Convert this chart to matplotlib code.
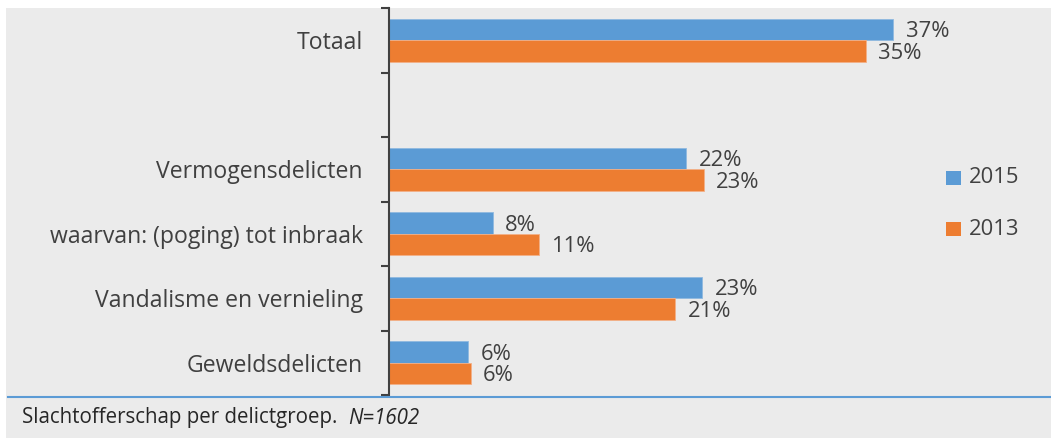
import numpy as np
import matplotlib.pyplot as plt
from matplotlib.patches import Rectangle
from matplotlib.lines import Line2D

categories = ['Totaal', '', 'Vermogensdelicten', 'waarvan: (poging) tot inbraak',
              'Vandalisme en vernieling', 'Geweldsdelicten']
v2015 = [37.0, None, 21.8, 7.6, 23.0, 5.8]
v2013 = [35.0, None, 23.1, 11.0, 21.0, 6.0]
years = ['2015', '2013']

blue = '#5b9bd5'
orange = '#ed7d31'
txt = '#404040'
bg = '#ebebeb'

plt.rcParams['font.family'] = ['Open Sans', 'DejaVu Sans']

W, H = 1051, 438
fig = plt.figure(figsize=(W / 100, H / 100), dpi=100, facecolor='white')

# grey panel
fig.patches.append(Rectangle((6 / W, 0), 1, 1 - 8 / H, transform=fig.transFigure,
                             facecolor=bg, edgecolor='none', zorder=-10))
fig.lines.append(Line2D([8 / W, 1], [1 - 397 / H, 1 - 397 / H], transform=fig.transFigure,
                        color=blue, lw=1.5))

ax = fig.add_axes([389 / W, 43 / H, (934 - 389) / W, (430 - 43) / H])
ax.set_facecolor('none')

n = len(categories)
y = np.arange(n)[::-1]
h = 1 / 3
fs = 15.8
for i in range(n):
    if v2015[i] is None:
        continue
    ax.barh(y[i] + h / 2, v2015[i], h, color=blue, edgecolor='#8fb9e0', lw=0.6)
    ax.barh(y[i] - h / 2, v2013[i], h, color=orange, edgecolor='#f3b088', lw=0.6)
    ax.annotate(f'{v2015[i]:.0f}%', (v2015[i], y[i] + h / 2), xytext=(9, -1.5),
                textcoords='offset points', va='center', ha='left', fontsize=fs, color=txt)
    ax.annotate(f'{v2013[i]:.0f}%', (v2013[i], y[i] - h / 2), xytext=(9, -1.5),
                textcoords='offset points', va='center', ha='left', fontsize=fs, color=txt)

ax.set_xlim(0, 40)
ax.set_ylim(-0.5, n - 0.5)
ax.set_yticks(y)
ax.set_yticklabels(categories, fontsize=16.6, color=txt)
ax.set_yticks(np.arange(-0.5, n, 1), minor=True)
ax.tick_params(axis='y', which='major', length=0, pad=19)
ax.tick_params(axis='y', which='minor', length=6, width=1.5, color='#404040')
ax.set_xticks([])
for s in ['top', 'right', 'bottom']:
    ax.spines[s].set_visible(False)
ax.spines['left'].set_color('#404040')
ax.spines['left'].set_linewidth(1.5)

# legend
for k, (yr, c) in enumerate(zip(years, [blue, orange])):
    yy = 1 - (178 + k * 51) / H
    fig.patches.append(Rectangle((946 / W, yy - 7 / H), 15 / W, 14 / H, transform=fig.transFigure,
                                 facecolor=c, edgecolor='none'))
    fig.text(969 / W, yy, yr, fontsize=fs, color=txt, va='center', ha='left')

t1 = fig.text(22 / W, 1 - 418 / H, 'Slachtofferschap per delictgroep.', fontsize=14.8,
              color='#262626', va='center', ha='left')
ax.annotate('N=1602', xy=(1, 0.5), xycoords=t1, xytext=(8, 0), textcoords='offset points',
            fontsize=14.8, style='italic', color='#262626', va='center', ha='left',
            annotation_clip=False)

fig.savefig('out.png', dpi=100, facecolor='white')
